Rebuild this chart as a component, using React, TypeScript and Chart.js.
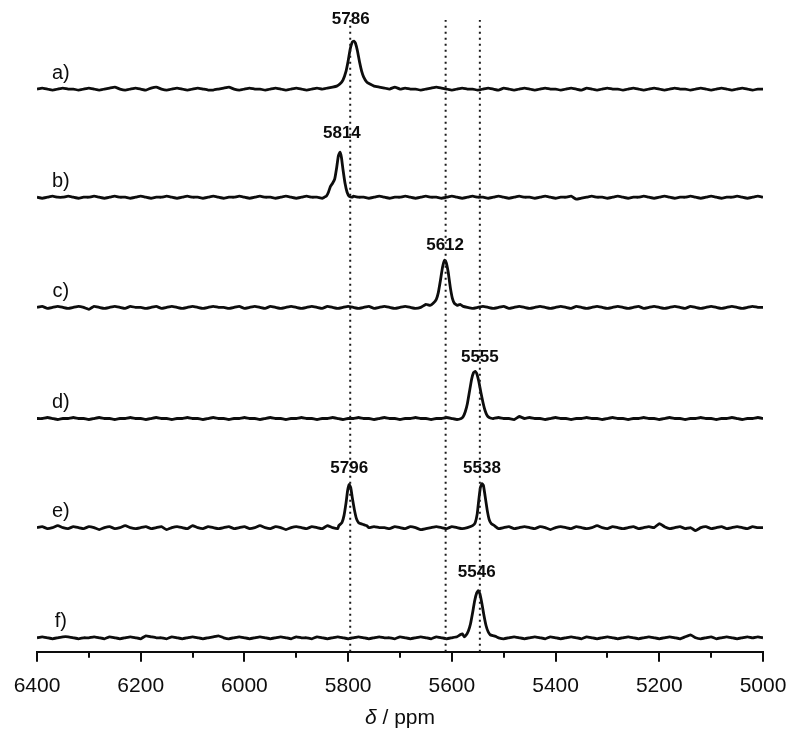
import React, { useEffect, useRef } from 'react';
import { Chart, registerables } from 'chart.js';

Chart.register(...registerables);

// Sampling grid (ppm) for the baselines
const GRID_PPM = [
  6400, 6390, 6380, 6370, 6360, 6350, 6340, 6330, 6320, 6310,
  6300, 6290, 6280, 6270, 6260, 6250, 6240, 6230, 6220, 6210,
  6200, 6190, 6180, 6170, 6160, 6150, 6140, 6130, 6120, 6110,
  6100, 6090, 6080, 6070, 6060, 6050, 6040, 6030, 6020, 6010,
  6000, 5990, 5980, 5970, 5960, 5950, 5940, 5930, 5920, 5910,
  5900, 5890, 5880, 5870, 5860, 5850, 5840, 5830, 5820, 5810,
  5800, 5790, 5780, 5770, 5760, 5750, 5740, 5730, 5720, 5710,
  5700, 5690, 5680, 5670, 5660, 5650, 5640, 5630, 5620, 5610,
  5600, 5590, 5580, 5570, 5560, 5550, 5540, 5530, 5520, 5510,
  5500, 5490, 5480, 5470, 5460, 5450, 5440, 5430, 5420, 5410,
  5400, 5390, 5380, 5370, 5360, 5350, 5340, 5330, 5320, 5310,
  5300, 5290, 5280, 5270, 5260, 5250, 5240, 5230, 5220, 5210,
  5200, 5190, 5180, 5170, 5160, 5150, 5140, 5130, 5120, 5110,
  5100, 5090, 5080, 5070, 5060, 5050, 5040, 5030, 5020, 5010,
  5000,
];

// Baseline noise (intensity units)
const NOISE_A = [
  0, 1, 0, -1, 0, 1, 0, 0, -1, 0, 1, 0, -1, 0, 1, 2, 0, -1, 0, 1,
  0, -1, 1, 2, 0, -1, 0, 1, 0, -1, 0, 1, 0, -1, -1, 0, 1, 2, 0, -1,
  0, 1, 0, 0, -1, 0, 1, 0, -1, 0, 1, 0, -1, 0, 1, 0, 0, -1, 1, 0,
  -1, 0, 1, 0, -1, 0, 0, 1, 0, 2, 0, 1, 0, 0, -1, 0, 1, 2, 1, 0,
  -1, 0, 1, 0, 0, -1, 0, 1, 0, -1, 1, 0, -1, 0, 1, 0, -1, 0, 1, 0,
  0, -1, 0, 1, 0, -1, 1, 0, -1, 0, 1, 0, 0, -1, 0, 1, 0, -1, 0, 1,
  0, -1, 0, 1, 0, 0, -1, 0, 1, 0, -1, 0, 1, 0, -1, 0, 1, 0, -1, 0,
  0,
];
const NOISE_B = [
  0, -1, 0, 1, 0, 0, 1, 0, -1, 0, 0, 1, 0, -1, 0, 1, 0, 0, -1, 0,
  1, 0, -1, 0, 0, 1, 0, -1, 0, 1, 0, 0, -1, 0, 1, 0, -1, 0, 0, 1,
  0, -1, 0, 1, 0, 0, -1, 0, 1, 0, -1, 0, 1, 0, 0, -1, 0, 1, 0, -1,
  0, 1, 0, 0, -1, 0, 1, 0, -1, 0, 0, 1, 0, -1, 0, 1, 0, 0, -1, 0,
  1, 0, -1, 0, 1, 0, 0, -1, 0, 1, 0, -1, 0, 1, 0, 0, -1, 0, 1, 0,
  -1, 0, 0, 1, -2, -1, 0, 1, 0, 0, -1, 0, 1, 0, -1, 0, 0, 1, 0, -1,
  0, 1, 0, -1, 0, 0, 1, 0, -1, 0, 1, 0, -1, 0, 0, 1, 0, -1, 0, 1,
  0,
];
const NOISE_C = [
  0, 1, -1, 0, 1, 0, -1, 0, 1, 0, -2, 1, 0, -1, 0, 1, 0, -1, 1, 0,
  0, -1, 0, 1, -1, 0, 1, 0, -1, 0, 1, 0, -1, 0, 1, 0, 0, -1, 0, 1,
  -1, 0, 1, 0, -1, 1, 0, -1, 0, 1, 0, -1, 0, 1, 0, -1, 1, 0, -1, 0,
  1, 0, -1, 0, 1, -1, 0, 1, 0, -1, 0, 1, 0, -1, 0, 1, 0, -1, 0, 1,
  0, -1, 1, 0, -1, 0, 1, 0, -1, 0, 1, -1, 0, 1, 0, -1, 0, 1, 0, -1,
  0, 1, 0, -1, 1, 0, -1, 0, 1, 0, -1, 0, 1, 0, -1, 0, 1, -1, 0, 1,
  0, -1, 0, 1, 0, -1, 1, 0, -1, 0, 1, 0, -1, 0, 1, 0, -1, 0, 1, 0,
  0,
];
const NOISE_D = [
  0, 0, 1, 0, -1, 0, 0, 1, 0, 0, -1, 0, 1, 0, 0, -1, 0, 0, 1, 0,
  0, -1, 0, 1, 0, 0, -1, 0, 0, 1, 0, 0, -1, 0, 1, 0, 0, -1, 0, 0,
  1, 0, 0, -1, 0, 1, 0, 0, -1, 0, 0, 1, 0, 0, -1, 0, 0, 1, 0, -1,
  0, 0, 1, 0, 0, -1, 0, 1, 0, 0, -1, 0, 0, 1, 0, 0, -1, 0, 0, 1,
  0, -1, 0, 0, 1, 0, 0, -1, 0, 1, 0, 0, -1, 2, 0, 1, 0, 0, -1, 0,
  1, 0, 0, -1, 0, 0, 1, 0, 0, -1, 0, 1, 0, 0, -1, 0, 0, 1, 0, 0,
  -1, 0, 1, 0, 0, -1, 0, 0, 1, 0, 0, -1, 0, 0, 1, 0, -1, 0, 0, 1,
  0,
];
const NOISE_E = [
  0, 1, -1, 0, 2, 0, -1, 1, 0, -1, 1, 0, -2, 0, 1, -1, 0, 2, 0, -1,
  0, 1, -1, 0, 1, -2, 0, 1, 0, -1, 2, 0, -1, 1, 0, -1, 0, 1, -1, 0,
  1, -1, 0, 2, 0, -1, 1, 0, -2, 0, 1, 0, -1, 1, 0, -1, 2, 0, -1, 0,
  1, -1, 0, 1, 0, 1, 0, 0, -1, 1, 0, -1, 1, 0, -2, -1, 0, 1, 0, -1,
  1, 0, -1, 0, 1, -1, 0, 2, 0, -1, 0, 1, -1, 0, 1, 0, -1, 1, 0, -2,
  0, 1, 0, -1, 1, 0, -1, 0, 2, 0, -1, 1, 0, -1, 0, 1, -1, 0, 1, 0,
  4, 1, -1, 0, 1, -1, 0, -3, 0, 1, -1, 0, 1, -1, 0, 1, 0, -1, 1, 0,
  0,
];
const NOISE_F = [
  0, 1, 0, -1, 0, 1, 1, 0, -1, 0, 0, 1, 0, -1, 1, 0, -1, 0, 1, 0,
  -1, 2, 1, 0, 0, -1, 1, 0, -1, 0, 1, 0, -1, 0, 1, 2, 0, -1, 0, 1,
  0, -1, 0, 1, 0, -1, 0, 1, 0, -1, 1, 0, 0, -1, 1, 0, -1, 0, 1, 0,
  -1, 0, 1, 0, -1, 0, 1, 0, 0, -1, 1, 0, -1, 0, 1, 0, -1, 1, 0, -1,
  0, 1, 0, -1, 0, 1, 0, -1, 1, 0, -1, 0, 1, 0, -1, 0, 1, 0, -1, 1,
  0, -1, 0, 1, 0, -1, 1, 0, -1, 0, 1, 0, -1, 0, 1, 0, -1, 0, 1, 0,
  -1, 0, 1, 0, -1, 1, 3, 0, -1, 0, 1, -1, 0, 1, 0, -1, 0, 1, 0, 1,
  0,
];

// Peak profiles: [ppm, intensity above baseline]
const PEAK_A_5786 = [
  [5840, 1], [5830, 2], [5822, 3], [5816, 5], [5810, 9], [5804, 18], [5800, 28],
  [5796, 40], [5792, 47], [5789, 48], [5786, 46], [5782, 38], [5778, 27], [5774, 18],
  [5770, 12], [5764, 7], [5758, 5], [5750, 3], [5740, 2], [5730, 1],
];
const PEAK_B_5814 = [
  [5846, 0], [5842, 1], [5838, 5], [5834, 11], [5830, 14], [5826, 18], [5822, 30],
  [5819, 41], [5816, 45], [5813, 40], [5810, 28], [5806, 14], [5802, 5], [5798, 1], [5792, 0],
];
const PEAK_C_5612 = [
  [5650, 3], [5642, 2], [5636, 4], [5630, 8], [5626, 15], [5622, 27], [5618, 40],
  [5614, 47], [5611, 45], [5607, 35], [5603, 20], [5599, 9], [5595, 4], [5590, 2],
  [5584, 3], [5578, 1],
];
const PEAK_D_5555 = [
  [5582, 0], [5578, 2], [5574, 7], [5570, 15], [5566, 27], [5562, 39], [5558, 46],
  [5555, 47], [5552, 45], [5548, 37], [5544, 26], [5540, 16], [5536, 8], [5532, 3],
  [5528, 1], [5522, 0],
];
const PEAK_E_5796 = [
  [5818, 2], [5812, 5], [5808, 12], [5804, 25], [5801, 37], [5798, 43], [5795, 40],
  [5792, 30], [5788, 18], [5784, 9], [5780, 5], [5776, 4], [5770, 3], [5764, 2],
];
const PEAK_E_5538 = [
  [5560, 2], [5555, 5], [5551, 14], [5548, 28], [5545, 40], [5542, 44], [5539, 42],
  [5536, 32], [5532, 18], [5528, 8], [5524, 4], [5518, 2],
];
const PEAK_F_5546 = [
  [5584, 3], [5580, 4], [5576, 1], [5572, 3], [5568, 7], [5564, 14], [5560, 25],
  [5556, 37], [5552, 45], [5549, 47], [5546, 44], [5542, 34], [5538, 22], [5534, 12],
  [5530, 6], [5526, 3], [5520, 2], [5514, 1],
];

const SPECTRUM_NAMES = ['a)', 'b)', 'c)', 'd)', 'e)', 'f)'];
const SPECTRUM_OFFSETS = [562, 454, 344, 233, 124, 14];
const SPECTRUM_NOISE = [NOISE_A, NOISE_B, NOISE_C, NOISE_D, NOISE_E, NOISE_F];
const SPECTRUM_PEAKS = [
  [PEAK_A_5786],
  [PEAK_B_5814],
  [PEAK_C_5612],
  [PEAK_D_5555],
  [PEAK_E_5796, PEAK_E_5538],
  [PEAK_F_5546],
];

// Peak annotations
const PEAK_LABELS = ['5786', '5814', '5612', '5555', '5796', '5538', '5546'];
const PEAK_LABEL_PPM = [5795, 5812, 5613, 5546, 5798, 5542, 5552];
const PEAK_LABEL_LEVEL = [632, 518, 406, 294, 183, 183, 79];

// Reference (dotted) lines
const REF_LINES_PPM = [5796, 5612, 5546];

// Axis
const X_MIN = 5000;
const X_MAX = 6400;
const Y_MAX = 631;
const MAJOR_STEP = 200;
const MINOR_TICKS = [6300, 6100, 5900, 5700, 5500, 5300, 5100];
const NAME_LABEL_PPM = 6354;
const NAME_LABEL_RISE = 16;

const FONT = '"Liberation Sans", Arial, Helvetica, sans-serif';
const INK = '#0d0d0d';

function buildSpectrum(noise: number[], peaks: number[][][], offset: number) {
  const ranges = peaks.map((p) => {
    const xs = p.map((q) => q[0]);
    return [Math.min(...xs), Math.max(...xs)];
  });
  const pts: { x: number; y: number }[] = [];
  GRID_PPM.forEach((x, i) => {
    if (!ranges.some(([lo, hi]) => x >= lo && x <= hi)) pts.push({ x, y: offset + noise[i] });
  });
  peaks.forEach((p) => p.forEach(([x, h]) => pts.push({ x, y: offset + h })));
  pts.sort((a, b) => b.x - a.x);
  return pts;
}

const overlayPlugin = {
  id: 'overlay',
  afterDraw(chart: any) {
    const { ctx, scales, chartArea } = chart;
    const xs = scales.x;
    const ys = scales.y;
    ctx.save();
    // minor ticks
    ctx.strokeStyle = INK;
    ctx.lineWidth = 2;
    MINOR_TICKS.forEach((v) => {
      const px = Math.round(xs.getPixelForValue(v));
      ctx.beginPath();
      ctx.moveTo(px, chartArea.bottom);
      ctx.lineTo(px, chartArea.bottom + 6);
      ctx.stroke();
    });
    ctx.fillStyle = INK;
    ctx.textAlign = 'center';
    ctx.textBaseline = 'middle';
    // spectrum names
    ctx.font = `20px ${FONT}`;
    SPECTRUM_NAMES.forEach((name, i) => {
      ctx.fillText(name, xs.getPixelForValue(NAME_LABEL_PPM), ys.getPixelForValue(SPECTRUM_OFFSETS[i] + NAME_LABEL_RISE));
    });
    // peak labels
    ctx.font = `bold 17px ${FONT}`;
    PEAK_LABELS.forEach((t, i) => {
      ctx.fillText(t, xs.getPixelForValue(PEAK_LABEL_PPM[i]), ys.getPixelForValue(PEAK_LABEL_LEVEL[i]));
    });
    // axis title: italic delta + " / ppm"
    const cx = (chartArea.left + chartArea.right) / 2;
    const ty = 718;
    ctx.font = `italic 21px ${FONT}`;
    const w1 = ctx.measureText('δ').width;
    ctx.font = `21px ${FONT}`;
    const w2 = ctx.measureText(' / ppm').width;
    const start = cx - (w1 + w2) / 2;
    ctx.textAlign = 'left';
    ctx.font = `italic 21px ${FONT}`;
    ctx.fillText('δ', start, ty);
    ctx.font = `21px ${FONT}`;
    ctx.fillText(' / ppm', start + w1, ty);
    ctx.restore();
  },
};

export default function App() {
  const ref = useRef<HTMLCanvasElement | null>(null);
  useEffect(() => {
    if (!ref.current) return;
    const refSets = REF_LINES_PPM.map((x) => ({
      data: [{ x, y: 0 }, { x, y: Y_MAX }],
      borderColor: '#1a1a1a',
      borderWidth: 2,
      borderDash: [2, 4],
      pointRadius: 0,
      fill: false,
    }));
    const specSets = SPECTRUM_NAMES.map((name, i) => ({
      label: name,
      data: buildSpectrum(SPECTRUM_NOISE[i], SPECTRUM_PEAKS[i], SPECTRUM_OFFSETS[i]),
      borderColor: INK,
      borderWidth: 2.8,
      pointRadius: 0,
      tension: 0.1,
      fill: false,
    }));
    const chart = new Chart(ref.current, {
      type: 'line',
      data: { datasets: [...refSets, ...specSets] as any },
      options: {
        animation: false,
        responsive: false,
        maintainAspectRatio: false,
        layout: { padding: { left: 37, right: 37, top: 20, bottom: 28 } },
        plugins: { legend: { display: false }, tooltip: { enabled: false } },
        elements: { point: { radius: 0 } },
        scales: {
          x: {
            type: 'linear',
            reverse: true,
            min: X_MIN,
            max: X_MAX,
            grid: { display: true, drawOnChartArea: false, drawTicks: true, tickLength: 10, color: INK, lineWidth: 2 },
            border: { display: true, color: INK, width: 2 },
            ticks: {
              stepSize: MAJOR_STEP,
              padding: 12,
              color: INK,
              font: { family: FONT, size: 21 },
              maxRotation: 0,
              autoSkip: false,
              callback: (v: any) => String(v),
            },
          },
          y: { display: false, min: 0, max: Y_MAX },
        },
      },
      plugins: [overlayPlugin],
    });
    return () => chart.destroy();
  }, []);
  return (
    <div style={{ position: 'fixed', left: 0, top: 0, width: 800, height: 739, background: '#ffffff' }}>
      <canvas ref={ref} width={800} height={739} style={{ display: 'block', width: 800, height: 739 }} />
    </div>
  );
}
